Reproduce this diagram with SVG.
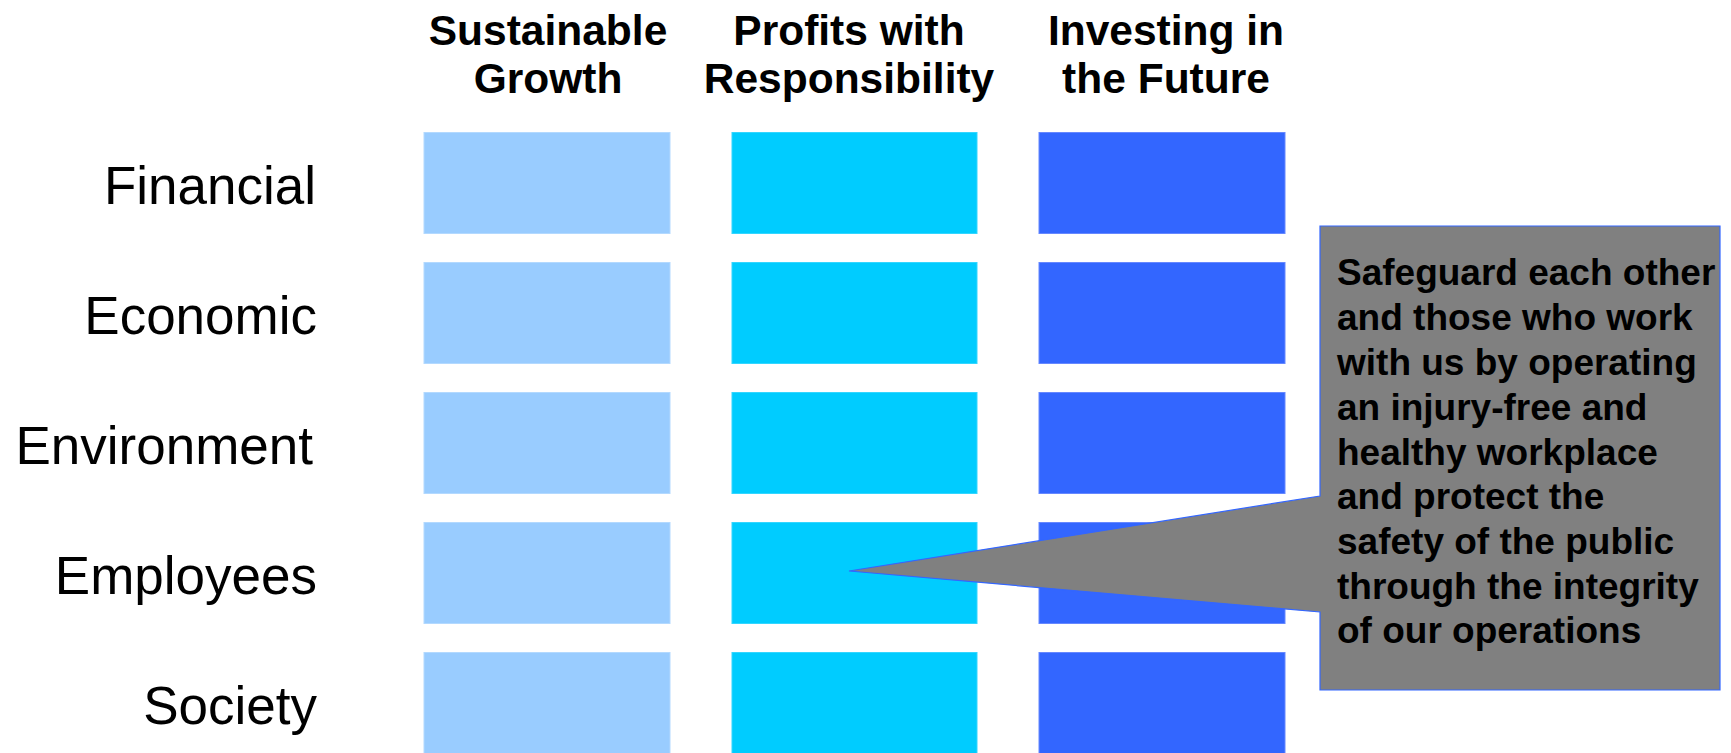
<svg xmlns="http://www.w3.org/2000/svg" width="1731" height="753" viewBox="0 0 1731 753">
<style>
.hdr{font-family:"Liberation Sans",Arial,sans-serif;font-weight:bold;font-size:42.5px;fill:#000;text-anchor:middle}
.row{font-family:"Liberation Sans",Arial,sans-serif;font-size:53px;fill:#000;text-anchor:end}
.c1{fill:#99ccff;stroke:#b3d9ff;stroke-width:1}
.c2{fill:#00ccff;stroke:#33d6ff;stroke-width:1}
.c3{fill:#3366ff;stroke:#6688ff;stroke-width:1}
.call{fill:#808080;stroke:#3366ff;stroke-width:1.2}
.ct{font-family:"Liberation Sans",Arial,sans-serif;font-weight:bold;font-size:37px;fill:#000}
</style>
<rect width="1731" height="753" fill="#fff"/>
<g id="headers">
<text class="hdr" x="548" y="45">Sustainable</text>
<text class="hdr" x="548" y="93">Growth</text>
<text class="hdr" x="849" y="45">Profits with</text>
<text class="hdr" x="849" y="93">Responsibility</text>
<text class="hdr" x="1166" y="45">Investing in</text>
<text class="hdr" x="1166" y="93">the Future</text>
</g>
<g id="row-labels">
<text class="row" x="316" y="204">Financial</text>
<text class="row" x="317" y="334">Economic</text>
<text class="row" x="313" y="464">Environment</text>
<text class="row" x="317" y="594">Employees</text>
<text class="row" x="317" y="724">Society</text>
</g>
<g id="grid">
<rect class="c1" x="424" y="132.5" width="246" height="101"/>
<rect class="c2" x="732" y="132.5" width="245" height="101"/>
<rect class="c3" x="1039" y="132.5" width="246" height="101"/>
<rect class="c1" x="424" y="262.5" width="246" height="101"/>
<rect class="c2" x="732" y="262.5" width="245" height="101"/>
<rect class="c3" x="1039" y="262.5" width="246" height="101"/>
<rect class="c1" x="424" y="392.5" width="246" height="101"/>
<rect class="c2" x="732" y="392.5" width="245" height="101"/>
<rect class="c3" x="1039" y="392.5" width="246" height="101"/>
<rect class="c1" x="424" y="522.5" width="246" height="101"/>
<rect class="c2" x="732" y="522.5" width="245" height="101"/>
<rect class="c3" x="1039" y="522.5" width="246" height="101"/>
<rect class="c1" x="424" y="652.5" width="246" height="101"/>
<rect class="c2" x="732" y="652.5" width="245" height="101"/>
<rect class="c3" x="1039" y="652.5" width="246" height="101"/>
</g>
<g id="callout">
<path class="call" d="M1320,226 H1720 V690 H1320 V612 L849,571 L1320,496 Z"/>
<text class="ct" x="1337" y="285">Safeguard each other</text>
<text class="ct" x="1337" y="330">and those who work</text>
<text class="ct" x="1337" y="375">with us by operating</text>
<text class="ct" x="1337" y="420">an injury-free and</text>
<text class="ct" x="1337" y="465">healthy workplace</text>
<text class="ct" x="1337" y="509">and protect the</text>
<text class="ct" x="1337" y="554">safety of the public</text>
<text class="ct" x="1337" y="599">through the integrity</text>
<text class="ct" x="1337" y="643">of our operations</text>
</g>
</svg>
